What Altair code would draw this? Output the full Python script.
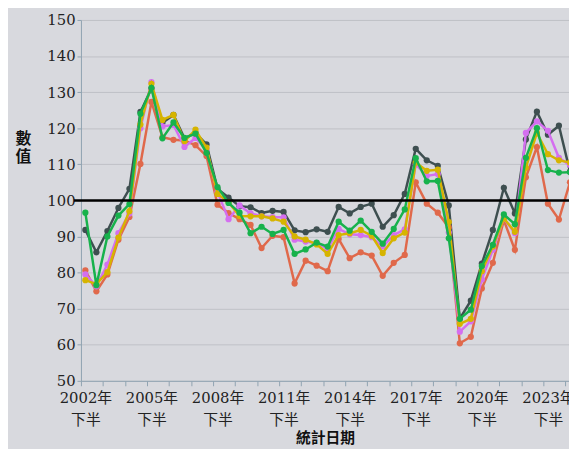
import altair as alt
import pandas as pd

# half-year index 0 = 2002年下半, 1 = 2003年上半, ...
idx = list(range(45))

series_names = ["系列A", "系列B", "系列C", "系列D", "系列E"]
series_colors = ["#3e4f50", "#e0694b", "#d46ff0", "#d6b400", "#17b24c"]

s_gray = [91.8, 85.6, 91.5, 97.9, 103.2, 124.5, 131.0, 121.5, 123.7, 117.2,
          118.7, 115.5, 103.2, 100.8, 98.4, 98.1, 96.5, 97.1, 96.8, 91.7,
          91.2, 92.0, 91.3, 98.2, 96.4, 98.2, 99.1, 92.7, 95.9, 101.8,
          114.3, 111.1, 109.6, 98.6, 67.2, 72.2, 82.5, 91.8, 103.5, 96.4,
          116.9, 124.6, 118.2, 120.7, 108.0]
s_orange = [80.6, 74.8, 79.5, 89.1, 95.4, 110.1, 127.3, 117.5, 116.8, 116.6,
            115.3, 112.3, 98.8, 96.5, 94.8, 93.2, 86.8, 90.2, 89.8, 77.0,
            83.3, 81.9, 80.4, 89.3, 84.0, 85.6, 84.7, 79.1, 82.7, 84.9,
            105.0, 99.1, 96.6, 92.5, 60.4, 62.2, 75.6, 82.7, 94.5, 86.3,
            106.4, 114.8, 99.1, 94.7, 105.0]
s_purple = [79.5, 76.2, 82.2, 90.9, 96.4, 120.0, 132.8, 120.5, 120.9, 114.8,
            117.3, 114.0, 102.3, 94.8, 98.6, 96.4, 95.6, 95.4, 95.3, 89.1,
            88.6, 88.2, 86.5, 92.1, 90.6, 90.4, 89.8, 87.2, 90.4, 92.0,
            110.0, 106.8, 107.3, 91.1, 63.6, 66.5, 78.1, 86.3, 95.0, 90.9,
            118.7, 121.9, 119.3, 111.8, 109.8]
s_yellow = [77.9, 76.8, 80.1, 89.7, 97.0, 121.0, 132.3, 122.3, 123.7, 116.4,
            119.6, 114.6, 101.8, 99.5, 95.7, 95.6, 95.6, 95.0, 94.1, 90.0,
            89.1, 87.8, 85.2, 90.4, 90.9, 91.8, 90.2, 85.4, 89.5, 91.1,
            110.5, 108.2, 108.5, 94.0, 65.8, 67.2, 80.4, 87.2, 95.0, 91.3,
            109.1, 118.7, 112.8, 111.1, 110.5]
s_green = [96.6, 76.5, 90.0, 95.8, 99.0, 124.0, 131.2, 117.2, 121.6, 117.3,
           118.5, 113.2, 103.7, 99.3, 96.6, 90.9, 92.7, 90.7, 91.8, 85.2,
           86.4, 88.3, 87.2, 94.1, 91.6, 94.4, 91.3, 88.0, 92.1, 97.5,
           111.7, 105.3, 105.4, 89.5, 67.2, 69.7, 81.8, 87.7, 96.1, 93.4,
           111.8, 120.0, 108.4, 107.7, 107.8]

all_series = [s_gray, s_orange, s_purple, s_yellow, s_green]

y_ticks = [50, 60, 70, 80, 90, 100, 110, 120, 130, 140, 150]
label_years = [2002, 2005, 2008, 2011, 2014, 2017, 2020, 2023]
ref_value = [100]

FONT = "DejaVu Serif, Noto Sans CJK TC"
AXIS_C = "#8fa3b1"

W, H = 495, 366
x_start = -0.4
x_end = x_start + W / 11.17

tick_vals = [round(x_start + 2 * k, 2) for k in range(23)]
label_expr = (
    "indexof([" + ",".join(str(y - 2002) for y in label_years) + "], round((datum.value + 0.4) / 2)) >= 0"
    " ? [toString(2002 + round((datum.value + 0.4) / 2)) + '年', '下半'] : ''"
)

x_enc = alt.X(
    "i:Q",
    scale=alt.Scale(domain=[x_start, x_end], nice=False, zero=False),
    axis=alt.Axis(
        values=tick_vals,
        labelExpr=label_expr,
        labelOffset=4.5,
        tickSize=5,
        tickColor=AXIS_C,
        domainColor=AXIS_C,
        grid=False,
        labelFlush=False,
        labelBound=False,
        labelOverlap=False,
        labelPadding=5,
        labelBaseline="top",
        labelLineHeight=22,
        labelFont=FONT,
        labelFontSize=15,
        labelColor="#222222",
        title="統計日期",
        titleFont="Noto Sans CJK TC",
        titleFontSize=15,
        titleFontWeight="bold",
        titleColor="#111111",
        titleY=58,
        titleBaseline="middle",
    ),
)
y_enc = alt.Y(
    "value:Q",
    scale=alt.Scale(domain=[50, 150], nice=False, zero=False),
    axis=alt.Axis(
        values=y_ticks,
        tickSize=4,
        tickColor=AXIS_C,
        domainColor=AXIS_C,
        gridColor="#bfc1c6",
        gridWidth=1,
        labelPadding=2,
        labelFont=FONT,
        labelFontSize=15,
        labelColor="#222222",
        title=["數", "值"],
        titleFont="Noto Sans CJK TC",
        titleFontSize=16,
        titleFontWeight="bold",
        titleColor="#111111",
        titleAngle=0,
        titleAlign="center",
        titleBaseline="top",
        titleLineHeight=19,
        titleX=-59,
        titleY=112,
    ),
)

layers = []
for name, color, vals in zip(series_names, series_colors, all_series):
    df = pd.DataFrame({"i": idx, "value": vals, "series": name})
    layers.append(
        alt.Chart(df)
        .mark_line(color=color, strokeWidth=2.5,
                   point=alt.OverlayMarkDef(color=color, size=40, filled=True, opacity=1))
        .encode(x=x_enc, y=y_enc)
    )

rule = (
    alt.Chart(pd.DataFrame({"value": ref_value}))
    .mark_rule(color="black", strokeWidth=2.5)
    .encode(y=y_enc, x=alt.value(-7), x2=alt.value(W))
)

chart = (
    alt.layer(*layers, rule)
    .properties(
        width=W,
        height=H,
        autosize=alt.AutoSizeParams(type="none"),
        padding={"left": 74, "top": 9, "right": 0, "bottom": 66},
        background="#d8d9de",
    )
    .configure_view(stroke=None)
)

chart.save("out.html", embed_options={"renderer": "svg", "actions": False})
